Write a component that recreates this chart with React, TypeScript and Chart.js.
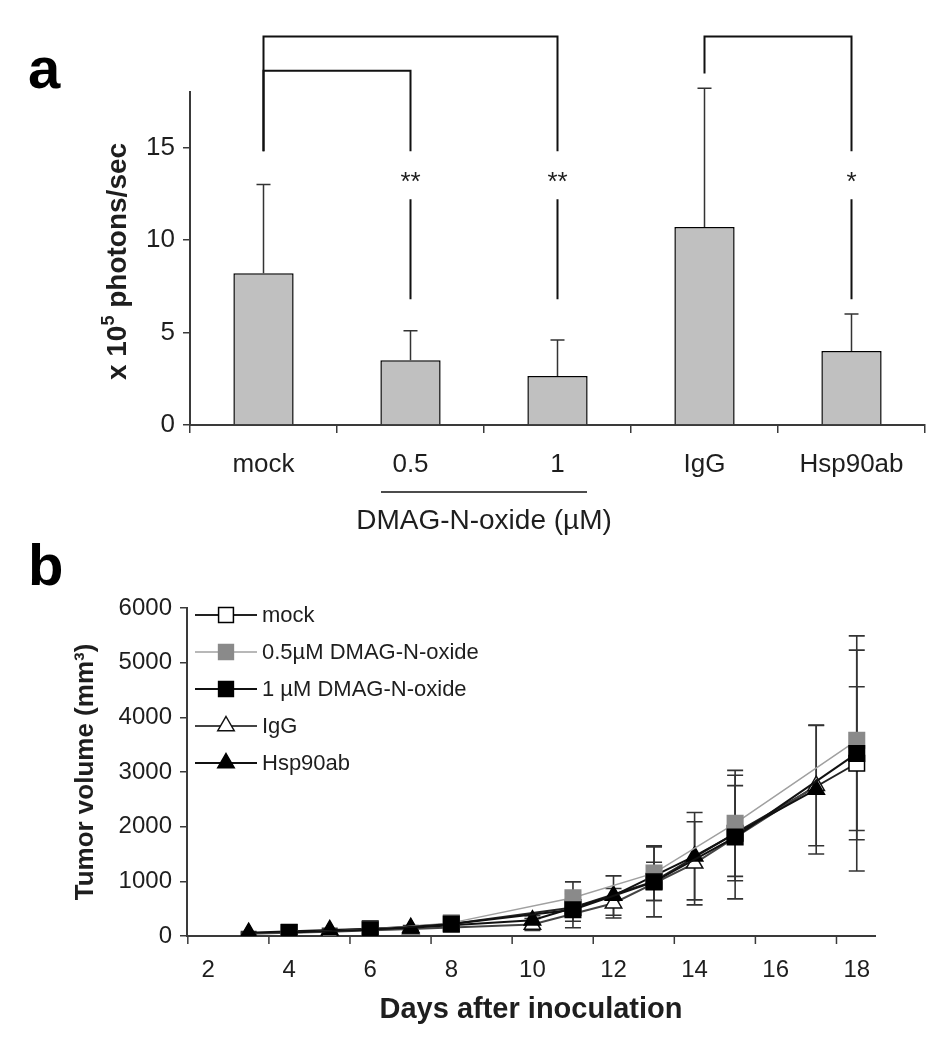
import React, { useEffect, useRef } from 'react';
import { Chart, registerables } from 'chart.js';

Chart.register(...registerables);

// ---------------- Panel a data ----------------
const groupLabels = ['mock', '0.5', '1', 'IgG', 'Hsp90ab'];
const photonMeans = [8.2, 3.5, 2.65, 10.7, 4.0];
const photonErrors = [4.8, 1.6, 1.95, 7.5, 2.0];
const photonTicks = [0, 5, 10, 15];
const sigFrom = [0, 0, 3];
const sigTo = [1, 2, 4];
const sigMarks = ['**', '**', '*'];
const doseGroupLabel = 'DMAG-N-oxide (µM)';

// ---------------- Panel b data ----------------
const seriesNames = ['mock', '0.5µM DMAG-N-oxide', '1 µM DMAG-N-oxide', 'IgG', 'Hsp90ab'];
const daysDMAG = [4, 6, 8, 11, 13, 15, 18];
const daysAb = [3, 5, 7, 10, 12, 14, 17];
const mockVol = [70, 130, 220, 520, 1000, 1880, 3160];
const mockErr = [20, 30, 40, 250, 350, 870, 1400];
const dmag05Vol = [60, 120, 240, 700, 1150, 2060, 3580];
const dmag05Err = [20, 30, 40, 290, 500, 970, 1650];
const dmag1Vol = [65, 115, 220, 480, 990, 1810, 3340];
const dmag1Err = [20, 30, 40, 330, 640, 1130, 2150];
const iggVol = [40, 80, 130, 210, 600, 1330, 2750];
const iggErr = [20, 30, 40, 110, 270, 760, 1100];
const hspVol = [60, 110, 150, 290, 740, 1460, 2680];
const hspErr = [20, 30, 40, 80, 360, 800, 1180];
const dayTicks = [2, 4, 6, 8, 10, 12, 14, 16, 18];
const volumeTicks = [0, 1000, 2000, 3000, 4000, 5000, 6000];

const FONT = "'Liberation Sans', Arial, Helvetica, sans-serif";
const INK = '#1e1e1e';
const AXIS = '#3a3a3a';

const toPoints = (xs: number[], ys: number[]) => xs.map((x, i) => ({ x, y: ys[i] }));

function drawMarker(ctx: CanvasRenderingContext2D, style: string, x: number, y: number, r: number, fill: string, stroke: string) {
  ctx.beginPath();
  if (style === 'rect') {
    const s = Math.SQRT1_2 * r;
    ctx.rect(x - s, y - s, 2 * s, 2 * s);
  } else {
    ctx.moveTo(x, y - r);
    ctx.lineTo(x + 0.866 * r, y + 0.5 * r);
    ctx.lineTo(x - 0.866 * r, y + 0.5 * r);
    ctx.closePath();
  }
  ctx.fillStyle = fill;
  ctx.fill();
  ctx.strokeStyle = stroke;
  ctx.lineWidth = 1.5;
  ctx.stroke();
}

const panelAPlugin = {
  id: 'panelA',
  afterDatasetsDraw(chart: any) {
    const ctx = chart.ctx as CanvasRenderingContext2D;
    const meta = chart.getDatasetMeta(0);
    const y = chart.scales.y;
    ctx.save();
    ctx.strokeStyle = '#333';
    ctx.lineWidth = 1.5;
    photonMeans.forEach((m, i) => {
      const x = meta.data[i].x;
      const yt = y.getPixelForValue(m + photonErrors[i]);
      const yb = y.getPixelForValue(m);
      ctx.beginPath();
      ctx.moveTo(x, yb);
      ctx.lineTo(x, yt);
      ctx.moveTo(x - 7, yt);
      ctx.lineTo(x + 7, yt);
      ctx.stroke();
    });
    ctx.restore();
  },
  afterDraw(chart: any) {
    const ctx = chart.ctx as CanvasRenderingContext2D;
    const meta = chart.getDatasetMeta(0);
    const y = chart.scales.y;
    const px = (i: number) => meta.data[i].x;
    ctx.save();
    const levels = [19.15, 21, 21];
    ctx.strokeStyle = '#111';
    ctx.lineWidth = 2;
    sigFrom.forEach((f, kk) => {
      const t = sigTo[kk];
      const lev = y.getPixelForValue(levels[kk]);
      const xa = px(f);
      const xb = px(t);
      const leftStop = y.getPixelForValue(Math.max(14.8, photonMeans[f] + photonErrors[f] + 0.8));
      const rightStop = y.getPixelForValue(14.8);
      ctx.beginPath();
      ctx.moveTo(xa, leftStop);
      ctx.lineTo(xa, lev);
      ctx.lineTo(xb, lev);
      ctx.lineTo(xb, rightStop);
      ctx.moveTo(xb, y.getPixelForValue(12.2));
      ctx.lineTo(xb, y.getPixelForValue(6.8));
      ctx.stroke();
      ctx.fillStyle = INK;
      ctx.font = `26px ${FONT}`;
      ctx.textAlign = 'center';
      ctx.textBaseline = 'alphabetic';
      ctx.fillText(sigMarks[kk], xb, y.getPixelForValue(13.5) + 15);
    });

    ctx.fillStyle = '#000';
    ctx.font = `bold 58px ${FONT}`;
    ctx.textAlign = 'left';
    ctx.textBaseline = 'alphabetic';
    ctx.fillText('a', 28, 88);

    const area = chart.chartArea;
    ctx.save();
    ctx.translate(126, (area.top + area.bottom) / 2 + 3);
    ctx.rotate(-Math.PI / 2);
    const parts = [
      { t: 'x 10', f: `bold 28px ${FONT}`, dy: 0 },
      { t: '5', f: `bold 18px ${FONT}`, dy: -12 },
      { t: ' photons/sec', f: `bold 28px ${FONT}`, dy: 0 },
    ];
    let total = 0;
    parts.forEach((p) => { ctx.font = p.f; total += ctx.measureText(p.t).width; });
    let cx = -total / 2;
    ctx.fillStyle = INK;
    ctx.textAlign = 'left';
    parts.forEach((p) => { ctx.font = p.f; ctx.fillText(p.t, cx, p.dy); cx += ctx.measureText(p.t).width; });
    ctx.restore();

    const mid = (px(1) + px(2)) / 2;
    ctx.strokeStyle = '#111';
    ctx.lineWidth = 1.5;
    ctx.beginPath();
    ctx.moveTo(mid - 103, 492);
    ctx.lineTo(mid + 103, 492);
    ctx.stroke();
    ctx.fillStyle = INK;
    ctx.font = `28px ${FONT}`;
    ctx.textAlign = 'center';
    ctx.textBaseline = 'middle';
    ctx.fillText(doseGroupLabel, mid, 521);
    ctx.restore();
  },
};

const panelBPlugin = {
  id: 'panelB',
  beforeDatasetsDraw(chart: any) {
    const ctx = chart.ctx as CanvasRenderingContext2D;
    const y = chart.scales.y;
    ctx.save();
    ctx.strokeStyle = '#333';
    ctx.lineWidth = 1.6;
    chart.data.datasets.forEach((ds: any, di: number) => {
      const meta = chart.getDatasetMeta(di);
      ds.data.forEach((pt: any, j: number) => {
        const e = ds.errors[j];
        const x = meta.data[j].x;
        const yt = y.getPixelForValue(pt.y + e);
        const yb = y.getPixelForValue(pt.y - e);
        ctx.beginPath();
        ctx.moveTo(x, yb);
        ctx.lineTo(x, yt);
        ctx.moveTo(x - 8, yt);
        ctx.lineTo(x + 8, yt);
        ctx.moveTo(x - 8, yb);
        ctx.lineTo(x + 8, yb);
        ctx.stroke();
      });
    });
    ctx.restore();
  },
  afterDraw(chart: any) {
    const ctx = chart.ctx as CanvasRenderingContext2D;
    const xs = chart.scales.x;
    const area = chart.chartArea;
    ctx.save();
    ctx.strokeStyle = AXIS;
    ctx.lineWidth = 1.5;
    dayTicks.forEach((d) => {
      const p = xs.getPixelForValue(d - 0.5);
      ctx.beginPath();
      ctx.moveTo(p, area.bottom);
      ctx.lineTo(p, area.bottom + 8);
      ctx.stroke();
    });

    chart.data.datasets.forEach((ds: any, i: number) => {
      const ly = 75 + i * 37;
      ctx.strokeStyle = ds.borderColor;
      ctx.lineWidth = ds.borderWidth;
      ctx.beginPath();
      ctx.moveTo(195, ly);
      ctx.lineTo(257, ly);
      ctx.stroke();
      drawMarker(ctx, ds.pointStyle, 226, ly, ds.pointStyle === 'rect' ? 10.5 : 9.5, ds.pointBackgroundColor, ds.pointBorderColor);
      ctx.fillStyle = INK;
      ctx.font = `22px ${FONT}`;
      ctx.textAlign = 'left';
      ctx.textBaseline = 'middle';
      ctx.fillText(ds.label, 262, ly + 1);
    });

    ctx.fillStyle = '#000';
    ctx.font = `bold 58px ${FONT}`;
    ctx.textAlign = 'left';
    ctx.textBaseline = 'alphabetic';
    ctx.fillText('b', 28, 45);

    ctx.fillStyle = INK;
    ctx.font = `bold 29px ${FONT}`;
    ctx.textAlign = 'center';
    ctx.textBaseline = 'middle';
    ctx.fillText('Days after inoculation', (area.left + area.right) / 2, 470);

    ctx.save();
    ctx.translate(93, (area.top + area.bottom) / 2);
    ctx.rotate(-Math.PI / 2);
    ctx.font = `bold 26px ${FONT}`;
    ctx.textAlign = 'center';
    ctx.textBaseline = 'alphabetic';
    ctx.fillText('Tumor volume (mm³)', 0, 0);
    ctx.restore();
    ctx.restore();
  },
};

export default function App() {
  const refA = useRef<HTMLCanvasElement>(null);
  const refB = useRef<HTMLCanvasElement>(null);

  useEffect(() => {
    document.body.style.margin = '0';
    const tickFontA = { family: FONT, size: 26 };
    const tickFontB = { family: FONT, size: 24 };

    const chartA = new Chart(refA.current as HTMLCanvasElement, {
      type: 'bar',
      data: {
        labels: groupLabels,
        datasets: [
          {
            data: photonMeans,
            backgroundColor: '#c0c0c0',
            borderColor: '#000',
            borderWidth: 1.5,
            barPercentage: 0.41,
            categoryPercentage: 1,
          },
        ],
      },
      options: {
        responsive: false,
        animation: false,
        devicePixelRatio: 1,
        layout: { padding: { top: 92, right: 23, left: 0, bottom: 0 } },
        plugins: { legend: { display: false }, tooltip: { enabled: false } },
        scales: {
          x: {
            grid: { display: true, drawOnChartArea: false, drawTicks: true, tickLength: 8, color: AXIS, lineWidth: 1.5, offset: true },
            border: { display: true, color: AXIS, width: 2 },
            ticks: { color: INK, font: tickFontA, padding: 16, maxRotation: 0, autoSkip: false },
            afterFit: (s: any) => { s.height = 135; },
          },
          y: {
            min: 0,
            max: 18,
            afterBuildTicks: (s: any) => { s.ticks = photonTicks.map((v) => ({ value: v })); },
            grid: { drawOnChartArea: false, drawTicks: true, tickLength: 7, color: AXIS, lineWidth: 1.5 },
            border: { display: true, color: AXIS, width: 2 },
            ticks: { color: INK, font: tickFontA, padding: 8, callback: (v: any) => String(v) },
            afterFit: (s: any) => { s.width = 190; },
          },
        },
      } as any,
      plugins: [panelAPlugin],
    });

    const common = { tension: 0, pointBorderWidth: 1.5, pointHoverRadius: 10 };
    const chartB = new Chart(refB.current as HTMLCanvasElement, {
      type: 'line',
      data: {
        datasets: [
          { ...common, order: 4, label: seriesNames[0], data: toPoints(daysDMAG, mockVol), errors: mockErr, borderColor: '#222', borderWidth: 2, pointStyle: 'rect', pointRadius: 11, pointBackgroundColor: '#ffffff', pointBorderColor: '#000' },
          { ...common, order: 1, label: seriesNames[1], data: toPoints(daysDMAG, dmag05Vol), errors: dmag05Err, borderColor: '#a0a0a0', borderWidth: 1.5, pointStyle: 'rect', pointRadius: 11, pointBackgroundColor: '#8a8a8a', pointBorderColor: '#8a8a8a' },
          { ...common, order: 0, label: seriesNames[2], data: toPoints(daysDMAG, dmag1Vol), errors: dmag1Err, borderColor: '#111', borderWidth: 2, pointStyle: 'rect', pointRadius: 11, pointBackgroundColor: '#000', pointBorderColor: '#000' },
          { ...common, order: 3, label: seriesNames[3], data: toPoints(daysAb, iggVol), errors: iggErr, borderColor: '#444', borderWidth: 2, pointStyle: 'triangle', pointRadius: 9.5, pointBackgroundColor: '#ffffff', pointBorderColor: '#111' },
          { ...common, order: 2, label: seriesNames[4], data: toPoints(daysAb, hspVol), errors: hspErr, borderColor: '#111', borderWidth: 2, pointStyle: 'triangle', pointRadius: 9.5, pointBackgroundColor: '#000', pointBorderColor: '#000' },
        ] as any,
      },
      options: {
        responsive: false,
        animation: false,
        devicePixelRatio: 1,
        layout: { padding: { top: 68, right: 73, left: 0, bottom: 0 } },
        plugins: { legend: { display: false }, tooltip: { enabled: false } },
        scales: {
          x: {
            type: 'linear',
            min: 1.48,
            max: 18.45,
            afterBuildTicks: (s: any) => { s.ticks = dayTicks.map((v) => ({ value: v })); },
            grid: { display: true, drawOnChartArea: false, drawTicks: true, tickLength: 8, color: 'rgba(0,0,0,0)' },
            border: { display: true, color: AXIS, width: 2 },
            ticks: { color: INK, font: tickFontB, padding: 12, maxRotation: 0, autoSkip: false, callback: (v: any) => String(v) },
            afterFit: (s: any) => { s.height = 114; },
          },
          y: {
            min: 0,
            max: 6000,
            afterBuildTicks: (s: any) => { s.ticks = volumeTicks.map((v) => ({ value: v })); },
            grid: { drawOnChartArea: false, drawTicks: true, tickLength: 7, color: AXIS, lineWidth: 1.5 },
            border: { display: true, color: AXIS, width: 2 },
            ticks: { color: INK, font: tickFontB, padding: 8, callback: (v: any) => String(v) },
            afterFit: (s: any) => { s.width = 187; },
          },
        },
      } as any,
      plugins: [panelBPlugin],
    });

    return () => {
      chartA.destroy();
      chartB.destroy();
    };
  }, []);

  return (
    <div style={{ position: 'relative', width: 948, height: 1050, background: '#fff', overflow: 'hidden' }}>
      <canvas ref={refA} width={948} height={560} style={{ position: 'absolute', left: 0, top: 0, width: 948, height: 560 }} />
      <canvas ref={refB} width={948} height={510} style={{ position: 'absolute', left: 0, top: 540, width: 948, height: 510 }} />
    </div>
  );
}
